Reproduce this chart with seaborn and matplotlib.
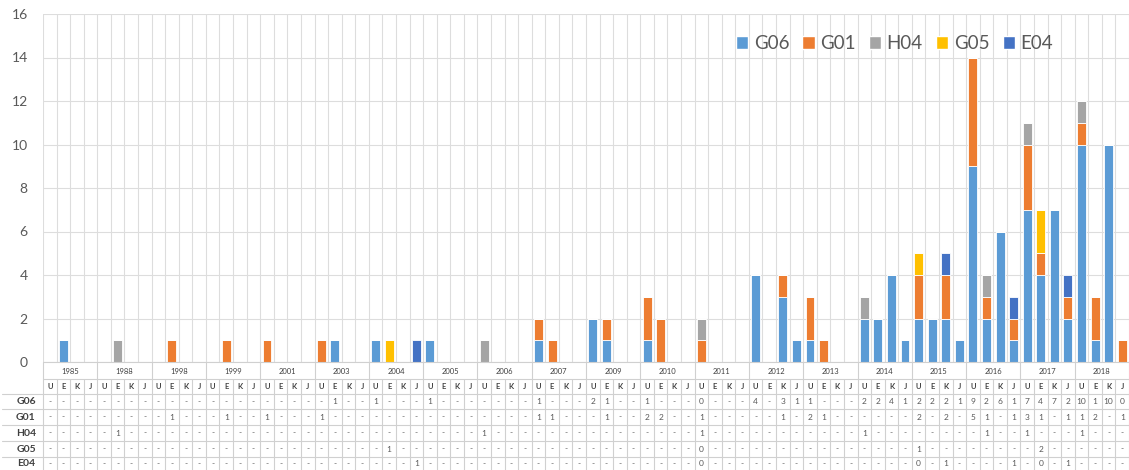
import matplotlib
matplotlib.use("Agg")
import matplotlib.pyplot as plt
import matplotlib.transforms as mtransforms
from matplotlib.lines import Line2D
from matplotlib.patches import Patch
import numpy as np
import pandas as pd
import seaborn as sns

years = ["1985", "1988", "1998", "1999", "2001", "2003", "2004", "2005", "2006", "2007",
         "2009", "2010", "2011", "2012", "2013", "2014", "2015", "2016", "2017", "2018"]
quarters = ["U", "E", "K", "J"]
codes = ["G06", "G01", "H04", "G05", "E04"]
colors = ["#5B9BD5", "#ED7D31", "#A5A5A5", "#FFC000", "#4472C4"]

# one value per year and quarter (U, E, K, J)
g06 = [0, 1, 0, 0,  0, 0, 0, 0,  0, 0, 0, 0,  0, 0, 0, 0,  0, 0, 0, 0,
       0, 1, 0, 0,  1, 0, 0, 0,  1, 0, 0, 0,  0, 0, 0, 0,  1, 0, 0, 0,
       2, 1, 0, 0,  1, 0, 0, 0,  0, 0, 0, 0,  4, 0, 3, 1,  1, 0, 0, 0,
       2, 2, 4, 1,  2, 2, 2, 1,  9, 2, 6, 1,  7, 4, 7, 2,  10, 1, 10, 0]
g01 = [0, 0, 0, 0,  0, 0, 0, 0,  0, 1, 0, 0,  0, 1, 0, 0,  1, 0, 0, 0,
       1, 0, 0, 0,  0, 0, 0, 0,  0, 0, 0, 0,  0, 0, 0, 0,  1, 1, 0, 0,
       0, 1, 0, 0,  2, 2, 0, 0,  1, 0, 0, 0,  0, 0, 1, 0,  2, 1, 0, 0,
       0, 0, 0, 0,  2, 0, 2, 0,  5, 1, 0, 1,  3, 1, 0, 1,  1, 2, 0, 1]
h04 = [0, 0, 0, 0,  0, 1, 0, 0,  0, 0, 0, 0,  0, 0, 0, 0,  0, 0, 0, 0,
       0, 0, 0, 0,  0, 0, 0, 0,  0, 0, 0, 0,  1, 0, 0, 0,  0, 0, 0, 0,
       0, 0, 0, 0,  0, 0, 0, 0,  1, 0, 0, 0,  0, 0, 0, 0,  0, 0, 0, 0,
       1, 0, 0, 0,  0, 0, 0, 0,  0, 1, 0, 0,  1, 0, 0, 0,  1, 0, 0, 0]
g05 = [0, 0, 0, 0,  0, 0, 0, 0,  0, 0, 0, 0,  0, 0, 0, 0,  0, 0, 0, 0,
       0, 0, 0, 0,  0, 1, 0, 0,  0, 0, 0, 0,  0, 0, 0, 0,  0, 0, 0, 0,
       0, 0, 0, 0,  0, 0, 0, 0,  0, 0, 0, 0,  0, 0, 0, 0,  0, 0, 0, 0,
       0, 0, 0, 0,  1, 0, 0, 0,  0, 0, 0, 0,  0, 2, 0, 0,  0, 0, 0, 0]
e04 = [0, 0, 0, 0,  0, 0, 0, 0,  0, 0, 0, 0,  0, 0, 0, 0,  0, 0, 0, 0,
       0, 0, 0, 0,  0, 0, 0, 1,  0, 0, 0, 0,  0, 0, 0, 0,  0, 0, 0, 0,
       0, 0, 0, 0,  0, 0, 0, 0,  0, 0, 0, 0,  0, 0, 0, 0,  0, 0, 0, 0,
       0, 0, 0, 0,  0, 0, 1, 0,  0, 0, 0, 1,  0, 0, 0, 1,  0, 0, 0, 0]

# cells where the data table prints something other than the count
table_override = {("G06", 1): "-", ("G06", 48): "0", ("G05", 48): "0", ("E04", 48): "0",
                  ("E04", 64): "0", ("E04", 73): "0", ("G06", 79): "0"}

counts = dict(zip(codes, [g06, g01, h04, g05, e04]))
n = len(years) * len(quarters)

df = pd.DataFrame([{"slot": i, "code": c, "n": v}
                   for c in codes for i, v in enumerate(counts[c]) if v])

sns.set_style("white")
plt.rcParams["font.family"] = ["Lato", "DejaVu Sans"]

W, H = 1129, 470
L, R, T, B = 43, 1129, 14, 362
fig = plt.figure(figsize=(W / 100, H / 100), dpi=100)
ax = fig.add_axes([L / W, 1 - B / H, (R - L) / W, (B - T) / H])

sns.histplot(data=df, x="slot", weights="n", hue="code", hue_order=codes[::-1],
             palette=dict(zip(codes, colors)), multiple="stack", discrete=True,
             shrink=0.66, edgecolor="white", linewidth=0.6, alpha=1, legend=False, ax=ax)

ax.set_xlim(-0.5, n - 0.5)
ax.set_ylim(0, 16)
ax.set_yticks(range(0, 17, 2))
ax.set_xticks(np.arange(-0.5, n, 1))
ax.set_xticklabels([])
ax.set_xlabel(""); ax.set_ylabel("")
ax.tick_params(length=0, axis="y", pad=11, labelsize=10, labelcolor="#595959")
ax.grid(True, color="#DDDDDD", lw=0.8)
ax.set_axisbelow(True)
for s in ax.spines.values():
    s.set_visible(False)

handles = [Patch(facecolor=c) for c in colors]
ax.legend(handles, codes, ncol=5, loc="upper left", frameon=False,
          bbox_to_anchor=((719 - L) / (R - L), (B - 18) / (B - T)),
          fontsize=13.5, handlelength=0.65, handleheight=0.65, handletextpad=0.3,
          columnspacing=0.7, labelcolor="#595959")

# data table below the axis
fy = lambda y: 1 - y / H
trans = mtransforms.blended_transform_factory(ax.transData, fig.transFigure)
line_c = "#D0D0D0"

for k in range(len(years) + 1):
    fig.add_artist(Line2D([k * 4 - 0.5] * 2, [fy(B), fy(379)], transform=trans, color=line_c, lw=0.8))
for k in range(n + 1):
    fig.add_artist(Line2D([k - 0.5] * 2, [fy(379), fy(H + 5)], transform=trans, color=line_c, lw=0.8))
for yy, x0 in [(B, L), (379, L), (394, 2), (409, 2), (425, 2), (441, 2), (457, 2)]:
    fig.add_artist(Line2D([x0 / W, 1], [fy(yy)] * 2, transform=fig.transFigure, color=line_c, lw=0.8))

for i, y in enumerate(years):
    fig.text(i * 4 + 1.5, fy(371), y, transform=trans, ha="center", va="center",
             fontsize=5.5, color="#404040")
for i in range(n):
    fig.text(i, fy(386.5), quarters[i % 4], transform=trans, ha="center", va="center",
             fontsize=5.5, color="#404040", fontweight="bold")

row_y = [401.5, 417, 433, 449, 464]
for c, yy in zip(codes, row_y):
    fig.text(26 / W, fy(yy), c, ha="center", va="center", fontsize=7.5,
             fontweight="bold", color="#404040")
    for i, v in enumerate(counts[c]):
        txt = table_override.get((c, i), str(v) if v else "-")
        fig.text(i, fy(yy), txt, transform=trans, ha="center", va="center",
                 fontsize=6, color="#595959")

fig.savefig("out.png", dpi=100)
